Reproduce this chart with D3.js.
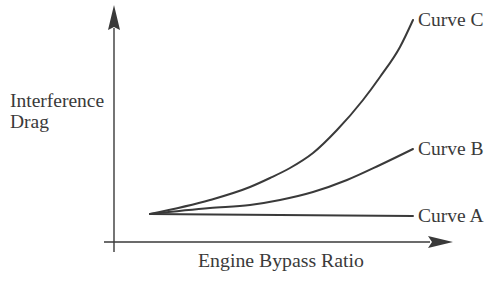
<!DOCTYPE html>
<html>
<head>
<meta charset="utf-8">
<script src="https://cdn.jsdelivr.net/npm/d3@7"></script>
<style>
  html, body { margin: 0; padding: 0; background: #fff; }
  svg { display: block; }
  text { font-family: "Liberation Serif", "Times New Roman", serif; fill: #3a3a3a; }
</style>
</head>
<body>
<svg id="chart" width="489" height="288"></svg>
<script>
// Abstract (unitless) schematic values
const seriesNames = ["Curve A", "Curve B", "Curve C"];
const curveA_x = [36, 166, 299];
const curveA_y = [28, 27, 26];
const curveB_x = [36, 96, 136, 166, 199, 233, 266, 299];
const curveB_y = [28, 34, 37, 42, 50, 62, 77, 93];
const curveC_x = [36, 96, 136, 156, 176, 199, 223, 249, 266, 286, 299];
const curveC_y = [28, 42, 55, 64, 74, 89, 112, 142, 165, 195, 222];
const xTitle = "Engine Bypass Ratio";
const yTitle = ["Interference", "Drag"];

const svg = d3.select("#chart");
const x = d3.scaleLinear().domain([0, 340]).range([114, 454]);
const y = d3.scaleLinear().domain([0, 240]).range([242, 2]);

const ink = "#3a3a3a";

// Axes
svg.append("line").attr("x1", x(-10)).attr("x2", x(316)).attr("y1", y(0)).attr("y2", y(0))
  .attr("stroke", ink).attr("stroke-width", 1.6);
svg.append("line").attr("x1", x(0)).attr("x2", x(0)).attr("y1", y(-10)).attr("y2", y(214))
  .attr("stroke", ink).attr("stroke-width", 1.4);
// arrowheads
svg.append("path")
  .attr("d", `M${x(339)},${y(0)} L${x(314)},${y(0) - 6} L${x(318)},${y(0)} L${x(314)},${y(0) + 6} Z`)
  .attr("fill", ink);
svg.append("path")
  .attr("d", `M${x(0)},${y(237)} L${x(0) - 6},${y(212)} L${x(0)},${y(215)} L${x(0) + 6},${y(212)} Z`)
  .attr("fill", ink);

const line = d3.line().x(d => x(d[0])).y(d => y(d[1])).curve(d3.curveMonotoneX);
const series = [
  { name: seriesNames[0], pts: d3.zip(curveA_x, curveA_y) },
  { name: seriesNames[1], pts: d3.zip(curveB_x, curveB_y) },
  { name: seriesNames[2], pts: d3.zip(curveC_x, curveC_y) }
];
series.forEach(s => {
  svg.append("path").attr("d", line(s.pts)).attr("fill", "none")
    .attr("stroke", ink).attr("stroke-width", 2).attr("stroke-linecap", "round");
  const last = s.pts[s.pts.length - 1];
  svg.append("text").attr("x", x(last[0]) + 5).attr("y", y(last[1]) + 6)
    .attr("font-size", 19.5).text(s.name);
});

// Titles
svg.append("text").attr("x", 281).attr("y", 267).attr("text-anchor", "middle")
  .attr("font-size", 19.8).text(xTitle);
yTitle.forEach((t, i) => {
  svg.append("text").attr("x", 10).attr("y", 107 + i * 21).attr("font-size", 19.5).text(t);
});
</script>
</body>
</html>
